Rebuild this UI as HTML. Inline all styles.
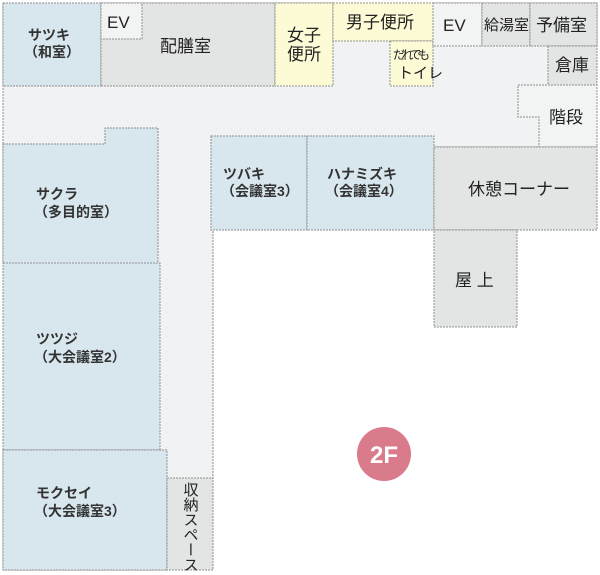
<!DOCTYPE html>
<html><head><meta charset="utf-8"><style>
html,body{margin:0;padding:0;background:#fff;}
svg{display:block;}
text{font-family:"Liberation Sans","Noto Sans CJK JP",sans-serif;fill:#222;}
.b{font-weight:bold;font-size:14px;fill:#333;}
.n{font-size:17px;}
</style></head><body>
<svg width="600" height="575" viewBox="0 0 600 575">
<g stroke="#8f8f8f" stroke-width="1" stroke-dasharray="2,1">
<polygon points="3,3 597,3 597,147 213,147 213,570 3,570" fill="#f1f2f3"/>
<rect x="3" y="3" width="98" height="83" fill="#d8e7ee"/>
<rect x="101" y="3" width="174" height="83" fill="#e3e4e4"/>
<rect x="101" y="3" width="41" height="36" fill="#f2f3f3"/>
<rect x="275" y="3" width="58" height="83" fill="#fdfad6"/>
<rect x="333" y="3" width="100" height="38" fill="#fdfad6"/>
<rect x="390" y="41" width="43" height="45" fill="#fdfad6"/>
<rect x="433" y="3" width="49" height="43" fill="#f2f3f3"/>
<rect x="482" y="3" width="48" height="43" fill="#e3e4e4"/>
<rect x="530" y="3" width="67" height="43" fill="#e3e4e4"/>
<rect x="548" y="46" width="49" height="39" fill="#e3e4e4"/>
<polygon points="518,85 597,85 597,147 539,147 539,117 518,117" fill="#f2f3f3"/>
<polygon points="3,144 105,144 105,128 158,128 158,263 3,263" fill="#d8e7ee"/>
<rect x="3" y="263" width="157" height="187" fill="#d8e7ee"/>
<rect x="3" y="450" width="164" height="120" fill="#d8e7ee"/>
<rect x="167" y="478" width="46" height="92" fill="#e3e4e4"/>
<rect x="211" y="136" width="96" height="94" fill="#d8e7ee"/>
<rect x="307" y="136" width="127" height="94" fill="#d8e7ee"/>
<rect x="434" y="147" width="163" height="83" fill="#e3e4e4"/>
<rect x="434" y="230" width="83" height="97" fill="#e3e4e4"/>
</g>
<text class="b" x="28" y="40">サツキ</text>
<text class="b" x="24" y="57">（和室）</text>
<text class="n" x="107" y="28">EV</text>
<text class="n" x="160" y="52">配膳室</text>
<text class="n" x="287" y="41">女子</text>
<text class="n" x="287" y="60">便所</text>
<text class="n" x="346" y="28">男子便所</text>
<text x="393" y="59" font-size="12" textLength="37">だれでも</text>
<text x="398" y="78" font-size="15">トイレ</text>
<text class="n" x="443" y="31">EV</text>
<text x="484" y="30" font-size="15" textLength="45">給湯室</text>
<text x="536" y="31" font-size="17">予備室</text>
<text class="n" x="555" y="71">倉庫</text>
<text class="n" x="549" y="123">階段</text>
<text class="b" x="36" y="199">サクラ</text>
<text class="b" x="34" y="217">（多目的室）</text>
<text class="b" x="36" y="344">ツツジ</text>
<text class="b" x="34" y="362">（大会議室2）</text>
<text class="b" x="36" y="498">モクセイ</text>
<text class="b" x="34" y="516">（大会議室3）</text>
<text class="b" x="223" y="179">ツバキ</text>
<text class="b" x="221" y="196">（会議室3）</text>
<text class="b" x="327" y="179">ハナミズキ</text>
<text class="b" x="325" y="196">（会議室4）</text>
<text class="n" x="468" y="195">休憩コーナー</text>
<text class="n" x="455" y="286">屋 上</text>
<text x="190" y="482" font-size="15" style="writing-mode:vertical-rl">収納スペース</text>
<circle cx="384" cy="454" r="27" fill="#d97b8b"/>
<text x="384" y="463" font-size="24" font-weight="bold" text-anchor="middle" style="fill:#fff">2F</text>
</svg>
</body></html>
